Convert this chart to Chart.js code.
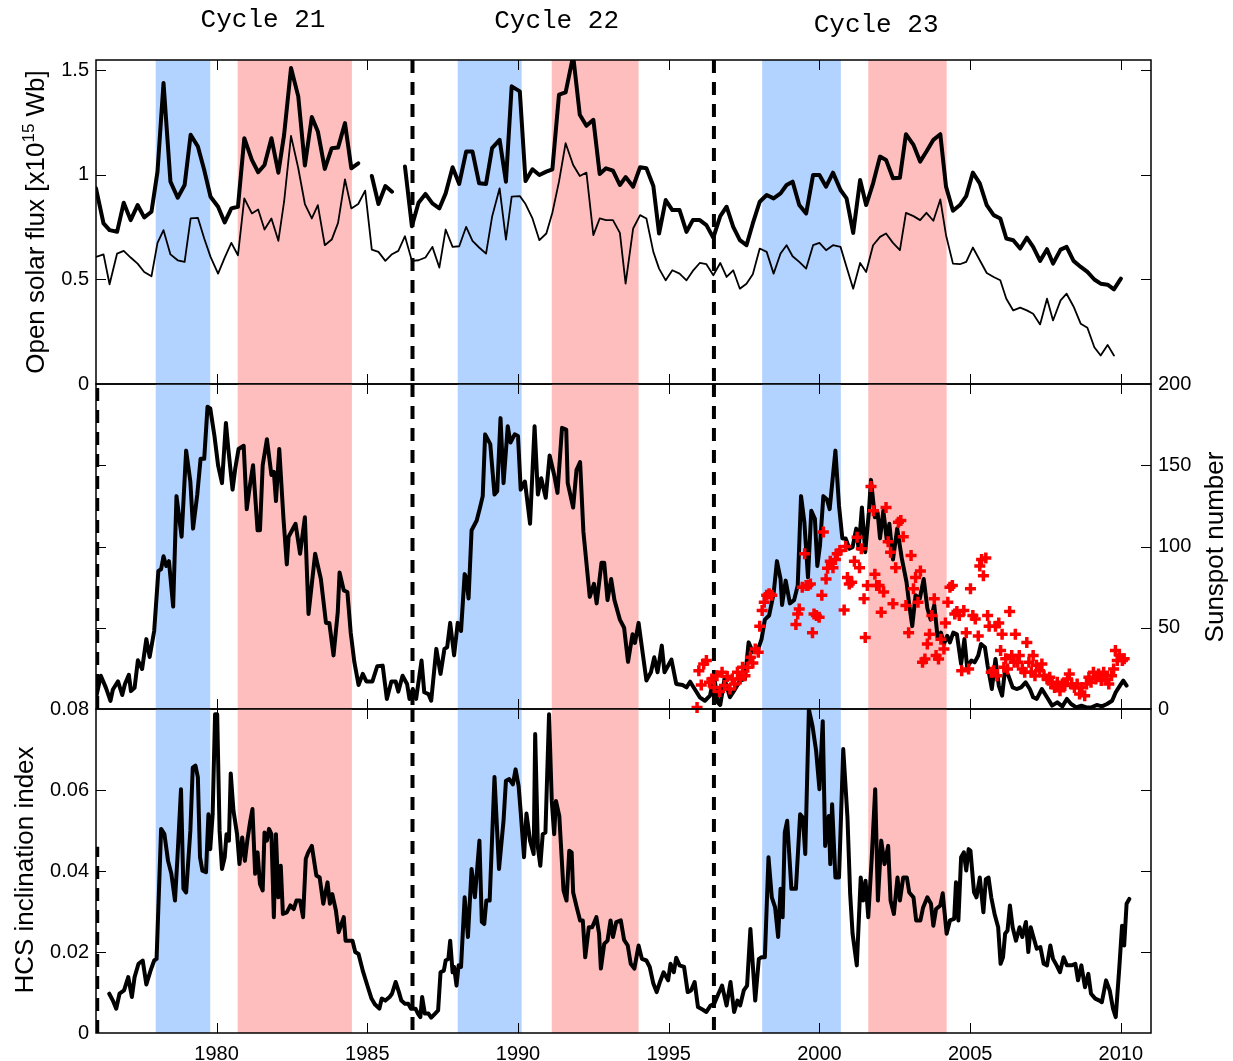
<!DOCTYPE html>
<html lang="en">
<head>
    <meta charset="UTF-8">
    <title>Open solar flux, sunspot number and HCS inclination, cycles 21-23</title>
    <script src="https://cdn.jsdelivr.net/npm/chart.js"></script>
    <style>
        body {
            margin: 0;
            padding: 0;
            background-color: #fff;
        }

        #figure {
            position: relative;
            width: 1233px;
            height: 1061px;
        }

        #figure canvas {
            position: absolute;
            left: 0;
            top: 0;
        }
    </style>
</head>
<body>
    <div id="figure">
        <canvas id="fluxChart" width="1233" height="1061"></canvas>
        <canvas id="sunChart" width="1233" height="1061"></canvas>
        <canvas id="hcsChart" width="1233" height="1061"></canvas>
    </div>

    <script>
        // ---- data ----
        const yearTicks = [1980, 1985, 1990, 1995, 2000, 2005, 2010];
        const fluxTicks = [0, 0.5, 1, 1.5];
        const sunTicks = [0, 50, 100, 150, 200];
        const hcsTicks = [0, 0.02, 0.04, 0.06, 0.08];

        const blueBands = [[1977.98, 1979.79], [1988.0, 1990.12], [1998.1, 2000.71]];
        const pinkBands = [[1980.7, 1984.49], [1991.12, 1994.0], [2001.62, 2004.22]];
        const minimumYears = [1986.5, 1996.5];
        const firstMinimum = 1976.04;

        const cycleNames = ["Cycle 21", "Cycle 22", "Cycle 23"];
        const cycleYears = [1981.54, 1991.28, 2001.88];

        // open solar flux (x10^15 Wb): thick and thin curves
        const fluxYears = [
            1976.0, 1976.25, 1976.45, 1976.7, 1976.92, 1977.15, 1977.38, 1977.6, 1977.84, 1978.04,
            1978.24, 1978.47, 1978.71, 1978.94, 1979.14, 1979.38, 1979.59, 1979.8, 1980.05, 1980.27,
            1980.49, 1980.71, 1980.92, 1981.17, 1981.38, 1981.59, 1981.82, 1982.05, 1982.24, 1982.47,
            1982.71, 1982.93, 1983.16, 1983.36, 1983.59, 1983.82, 1984.03, 1984.26, 1984.47, 1984.7,
            1984.93, 1985.15, 1985.37, 1985.6, 1985.82, 1986.03, 1986.25, 1986.48, 1986.7, 1986.93,
            1987.16, 1987.39, 1987.6, 1987.83, 1988.05, 1988.28, 1988.49, 1988.71, 1988.94, 1989.14,
            1989.39, 1989.6, 1989.79, 1990.06, 1990.25, 1990.48, 1990.71, 1990.94, 1991.14, 1991.36,
            1991.58, 1991.83, 1992.05, 1992.27, 1992.5, 1992.71, 1992.92, 1993.15, 1993.38, 1993.57,
            1993.82, 1994.05, 1994.26, 1994.49, 1994.68, 1994.9, 1995.12, 1995.36, 1995.59, 1995.8,
            1996.03, 1996.25, 1996.48, 1996.71, 1996.92, 1997.14, 1997.36, 1997.58, 1997.79, 1998.02,
            1998.25, 1998.48, 1998.71, 1998.91, 1999.11, 1999.33, 1999.56, 1999.79, 2000.0, 2000.22,
            2000.45, 2000.7, 2000.9, 2001.12, 2001.35, 2001.55, 2001.78, 2002.01, 2002.21, 2002.44,
            2002.67, 2002.87, 2003.12, 2003.34, 2003.55, 2003.78, 2004.01, 2004.2, 2004.43, 2004.66,
            2004.87, 2005.09, 2005.32, 2005.55, 2005.78, 2006.0, 2006.2, 2006.43, 2006.66, 2006.88,
            2007.09, 2007.32, 2007.55, 2007.75, 2008.0, 2008.2, 2008.43, 2008.67, 2008.89, 2009.12,
            2009.33, 2009.56, 2009.77, 2010.0
        ];
        const fluxThick = [
            .936, .768, .736, .728, .867, .784, .856, .797, .824, 1.016,
            1.44, .968, .891, .952, 1.192, 1.136, 1.024, .896, .848, .773,
            .84, .848, 1.176, 1.072, 1.013, 1.048, 1.176, 1.011, 1.192, 1.512,
            1.376, 1.045, 1.277, 1.208, 1.029, 1.128, 1.131, 1.248, 1.032, 1.056,
            null, .995, .861, .947, .92, null, 1.04, .755, .867, .909,
            .864, .84, .912, 1.037, .957, 1.112, 1.112, .96, .957, 1.128,
            1.168, .968, 1.424, 1.4, .971, 1.027, 1.0, 1.016, 1.027, 1.384,
            1.395, 1.57, 1.288, 1.235, 1.264, 1.005, 1.032, 1.021, .952, .99,
            .944, 1.037, 1.032, .947, .72, .88, .832, .832, .728, .784,
            .784, .76, .7, .803, .848, .752, .688, .664, .768, .872,
            .904, .888, .912, .952, .968, .856, .816, 1.0, 1.0, .944,
            1.011, .928, .888, .723, .976, .856, .96, 1.088, 1.072, .984,
            .987, 1.195, 1.144, 1.064, 1.112, 1.168, 1.195, .944, .829, .856,
            .899, 1.011, .96, .856, .808, .792, .696, .688, .648, .70,
            .656, .589, .645, .576, .643, .656, .589, .56, .536, .5,
            .48, .475, .453, .504
        ];
        const fluxThin = [
            .608, .62, .477, .624, .637, .605, .576, .536, .515, .675,
            .736, .62, .592, .584, .792, .795, .696, .608, .528, .605,
            .675, .616, .888, .816, .835, .739, .792, .685, .872, 1.187,
            1.032, .861, .792, .856, .664, .691, .771, .979, .84, .861,
            .925, .643, .632, .589, .621, .637, .707, .589, .592, .605,
            .656, .557, .739, .656, .659, .752, .685, .653, .624, .8,
            .936, .691, .896, .899, .861, .792, .688, .72, .819, .968,
            1.152, 1.048, .995, 1.011, .712, .792, .784, .784, .723, .48,
            .744, .808, .792, .632, .552, .496, .544, .528, .496, .541,
            .579, .573, .52, .579, .512, .544, .456, .48, .525, .648,
            .632, .528, .624, .664, .611, .584, .552, .664, .675, .64,
            .664, .656, .56, .456, .579, .536, .664, .704, .72, .675,
            .64, .819, .803, .784, .819, .781, .883, .712, .576, .573,
            .584, .653, .592, .531, .512, .496, .408, .352, .365, .352,
            .336, .285, .408, .304, .4, .432, .371, .288, .269, .176,
            .136, .187, .136, null
        ];

        // sunspot number (black curve)
        const sunYears = [
            1975.98, 1976.16, 1976.33, 1976.48, 1976.56, 1976.73, 1976.87, 1976.96, 1977.09, 1977.16,
            1977.28, 1977.39, 1977.53, 1977.67, 1977.78, 1977.93, 1978.07, 1978.16, 1978.24, 1978.33,
            1978.42, 1978.56, 1978.67, 1978.84, 1978.99, 1979.13, 1979.22, 1979.36, 1979.47, 1979.59,
            1979.7, 1979.79, 1979.93, 1980.05, 1980.18, 1980.31, 1980.39, 1980.53, 1980.62, 1980.73,
            1980.9, 1981.0, 1981.11, 1981.21, 1981.36, 1981.44, 1981.53, 1981.67, 1981.82, 1981.9,
            1981.97, 1982.08, 1982.22, 1982.33, 1982.39, 1982.62, 1982.77, 1982.93, 1983.05, 1983.27,
            1983.46, 1983.63, 1983.74, 1983.88, 1984.02, 1984.08, 1984.22, 1984.34, 1984.45, 1984.57,
            1984.71, 1984.85, 1984.97, 1985.17, 1985.33, 1985.51, 1985.65, 1985.8, 1985.94, 1986.03,
            1986.17, 1986.32, 1986.4, 1986.51, 1986.62, 1986.8, 1986.89, 1987.03, 1987.12, 1987.29,
            1987.43, 1987.56, 1987.65, 1987.75, 1987.88, 1988.0, 1988.11, 1988.23, 1988.28, 1988.36,
            1988.46, 1988.63, 1988.74, 1988.83, 1988.91, 1989.08, 1989.22, 1989.31, 1989.42, 1989.52,
            1989.66, 1989.75, 1989.89, 1990.0, 1990.09, 1990.23, 1990.4, 1990.55, 1990.66, 1990.77,
            1990.92, 1991.05, 1991.2, 1991.31, 1991.46, 1991.6, 1991.65, 1991.83, 1991.94, 1992.06,
            1992.17, 1992.38, 1992.52, 1992.61, 1992.77, 1992.86, 1992.97, 1993.09, 1993.2, 1993.38,
            1993.52, 1993.65, 1993.8, 1993.88, 1994.0, 1994.11, 1994.26, 1994.41, 1994.52, 1994.63,
            1994.77, 1994.86, 1995.09, 1995.25, 1995.46, 1995.59, 1995.71, 1995.86, 1996.03, 1996.2,
            1996.37, 1996.51, 1996.62, 1996.71, 1996.85, 1997.03, 1997.17, 1997.37, 1997.53, 1997.65,
            1997.79, 1997.97, 1998.08, 1998.19, 1998.33, 1998.48, 1998.59, 1998.71, 1998.76, 1998.88,
            1999.02, 1999.16, 1999.28, 1999.39, 1999.5, 1999.62, 1999.73, 1999.85, 1999.93, 2000.02,
            2000.13, 2000.25, 2000.34, 2000.53, 2000.65, 2000.76, 2000.87, 2000.99, 2001.1, 2001.22,
            2001.3, 2001.41, 2001.52, 2001.64, 2001.71, 2001.84, 2001.93, 2002.01, 2002.12, 2002.24,
            2002.32, 2002.44, 2002.58, 2002.73, 2002.89, 2002.98, 2003.08, 2003.19, 2003.33, 2003.46,
            2003.58, 2003.69, 2003.81, 2003.92, 2004.03, 2004.13, 2004.24, 2004.33, 2004.44, 2004.56,
            2004.7, 2004.81, 2004.9, 2005.04, 2005.15, 2005.27, 2005.36, 2005.49, 2005.58, 2005.72,
            2005.84, 2005.95, 2006.06, 2006.16, 2006.27, 2006.41, 2006.54, 2006.69, 2006.84, 2006.98,
            2007.09, 2007.21, 2007.38, 2007.55, 2007.72, 2007.89, 2008.06, 2008.21, 2008.35, 2008.52,
            2008.69, 2008.86, 2009.03, 2009.2, 2009.37, 2009.54, 2009.71, 2009.83, 2009.97, 2010.08,
            2010.19
        ];
        const sunValues = [
            5, 20.5, 13, 5, 12, 17, 8.6, 15.4, 21, 11,
            13, 30, 24.6, 43, 32, 48, 85, 86, 94, 88,
            91, 63, 131, 106, 159, 140, 111, 132, 154, 154,
            186, 185, 168, 150, 139, 176, 160, 135, 148, 160,
            162, 123, 138, 150, 110, 110, 150, 166, 144, 146,
            128, 160, 117, 89, 106, 114, 95.5, 118, 58.5, 95.5,
            80, 53, 53, 33, 59.5, 84, 73, 72, 47, 29,
            14.8, 21.6, 17, 17, 26.3, 26.7, 6.2, 17, 17, 10.7,
            20.5, 15.4, 6.2, 12.3, 6.2, 29.8, 10.3, 9.2, 5.1, 37,
            21.6, 37, 38, 53, 33, 53, 48, 83, 81, 68,
            110, 116, 124, 131, 169, 163, 132, 134, 179, 139,
            174, 164, 169, 168, 135, 140, 114, 174, 132, 142,
            130, 156, 144, 133, 173, 172, 139, 124, 147, 152,
            109, 69, 77, 65, 90, 90, 67, 80, 67, 55,
            50, 29, 46, 40.7, 53, 38, 17.5, 22.6, 31.8, 22.6,
            39, 22.6, 30.4, 15.4, 14.8, 13.3, 16.8, 12.3, 7.2, 5.1,
            8.2, 20.5, 4.1, 2.5, 18.5, 7.2, 11.3, 17.5, 18.5, 41,
            35, 37, 43, 55, 57.5, 71, 91, 80, 64, 79,
            65, 67, 76, 131, 115, 81, 122, 117, 88, 101,
            131, 129, 123, 159, 125, 105, 105, 98.6, 99.6, 111,
            98.6, 124, 96.5, 121, 141, 118, 121, 105, 122, 103,
            114, 92, 111, 93, 78, 64, 51, 70, 68, 80,
            62, 55, 64, 44, 47, 40, 45, 41, 47, 46,
            27.7, 43, 25.7, 29.8, 28.7, 32.9, 40, 38, 26.7, 12.3,
            30.8, 14.4, 8.2, 24.6, 20.5, 13.3, 12.3, 13.3, 16.4, 12.3,
            7.2, 6.2, 12.3, 7.2, 2.1, 4.1, 1.6, 6.2, 3.1, 1,
            2, 1, 1, 2.5, 1.6, 3.1, 5.1, 10.3, 14.4, 17.5,
            14.4
        ];

        // red crosses (second sunspot series, 1996 onward)
        const crossYears = [
            1995.94, 1996.0, 1996.08, 1996.16, 1996.25, 1996.35, 1996.43, 1996.51, 1996.6, 1996.69,
            1996.77, 1996.85, 1996.94, 1997.03, 1997.11, 1997.19, 1997.28, 1997.37, 1997.45, 1997.53,
            1997.62, 1997.71, 1997.79, 1997.87, 1997.97, 1998.02, 1998.1, 1998.17, 1998.25, 1998.33,
            1998.42, 1999.22, 1999.28, 1999.33, 1999.43, 1999.51, 1999.56, 1999.62, 1999.7, 1999.77,
            1999.82, 1999.9, 1999.99, 2000.08, 2000.13, 2000.22, 2000.27, 2000.36, 2000.45, 2000.53,
            2000.59, 2000.68, 2000.82, 2000.87, 2000.93, 2000.99, 2001.07, 2001.16, 2001.25, 2001.33,
            2001.39, 2001.48, 2001.52, 2001.59, 2001.71, 2001.79, 2001.84, 2001.9, 2001.98, 2002.05,
            2002.13, 2002.21, 2002.28, 2002.36, 2002.44, 2002.53, 2002.62, 2002.7, 2002.78, 2002.87,
            2002.96, 2003.04, 2003.12, 2003.19, 2003.27, 2003.35, 2003.42, 2003.5, 2003.58, 2003.65,
            2003.73, 2003.81, 2003.87, 2003.95, 2004.03, 2004.13, 2004.18, 2004.26, 2004.33, 2004.41,
            2004.49, 2004.56, 2004.64, 2004.72, 2004.79, 2004.87, 2004.95, 2005.01, 2005.09, 2005.17,
            2005.27, 2005.32, 2005.38, 2005.44, 2005.52, 2005.58, 2005.63, 2005.7, 2005.78, 2005.84,
            2005.89, 2005.95, 2006.01, 2006.06, 2006.12, 2006.18, 2006.24, 2006.31, 2006.38, 2006.46,
            2006.5, 2006.58, 2006.63, 2006.73, 2006.81, 2006.88, 2006.95, 2007.03, 2007.09, 2007.15,
            2007.2, 2007.3, 2007.38, 2007.45, 2007.55, 2007.64, 2007.72, 2007.8, 2007.89, 2007.98,
            2008.06, 2008.14, 2008.23, 2008.29, 2008.37, 2008.46, 2008.55, 2008.63, 2008.71, 2008.8,
            2008.86, 2008.94, 2009.01, 2009.09, 2009.17, 2009.26, 2009.35, 2009.43, 2009.51, 2009.6,
            2009.69, 2009.76, 2009.82, 2009.88, 2009.95, 2010.05, 2010.11
        ];
        const crossValues = [
            1, 23.6, 14.8, 27.7, 29.8, 16.4, 18.5, 13.3, 20.5, 10.7,
            22.6, 14.4, 20, 12.3, 18.5, 15.4, 22.6, 18.5, 25.7, 20.5,
            25.7, 31.8, 28.3, 37, 35, 51, 60.6, 65.7, 70, 71,
            70, 52, 58.5, 61.6, 75, 95.5, 76, 76, 77, 47,
            58.5, 57.5, 56.5, 70, 109, 80, 86.6, 91, 87, 92,
            95.5, 97.5, 61, 100, 81, 77, 78, 91, 105.7, 87,
            98.6, 67.8, 44, 76, 137, 122, 83, 76, 76, 59.5,
            72, 124, 103, 96.5, 64.7, 87, 115, 116, 106, 63.7,
            47, 94.5, 74, 81, 65.7, 85, 28.7, 30.8, 40, 46,
            57.5, 67.8, 32.9, 30.8, 43, 37, 53, 65.7, 75, 76,
            58.5, 60, 57.5, 23.6, 60.6, 47, 24.6, 74, 57.5, 55.4,
            45, 88, 92, 82, 93, 57.5, 51, 22.6, 23.6, 51,
            20.5, 53, 36, 46, 25.7, 31, 24.6, 60, 33, 28.7,
            46, 28.7, 33, 24.6, 22.6, 41, 28.7, 22.6, 33, 20.5,
            27, 23.6, 27.7, 20.5, 18.5, 19.5, 15.4, 13.3, 16.4, 11.3,
            15.4, 14.4, 18.5, 21.6, 15.4, 13.3, 15.4, 9.2, 13.3, 8.2,
            15.4, 19.5, 16.4, 22.6, 18.5, 21.6, 17.5, 22.6, 18.5, 15.4,
            20.5, 24.6, 36, 29.8, 33.3, 29.8, 31
        ];

        // HCS inclination index
        const hcsYears = [
            1976.44, 1976.56, 1976.67, 1976.78, 1976.93, 1977.07, 1977.19, 1977.28, 1977.41, 1977.55,
            1977.67, 1977.81, 1977.93, 1978.01, 1978.16, 1978.27, 1978.39, 1978.5, 1978.62, 1978.7,
            1978.82, 1978.9, 1978.99, 1979.13, 1979.21, 1979.3, 1979.38, 1979.45, 1979.53, 1979.65,
            1979.73, 1979.79, 1979.87, 1979.95, 1980.02, 1980.1, 1980.18, 1980.27, 1980.33, 1980.41,
            1980.47, 1980.56, 1980.68, 1980.76, 1980.85, 1980.94, 1981.02, 1981.11, 1981.19, 1981.28,
            1981.36, 1981.44, 1981.53, 1981.59, 1981.67, 1981.74, 1981.82, 1981.9, 1981.97, 1982.05,
            1982.13, 1982.2, 1982.33, 1982.45, 1982.56, 1982.65, 1982.77, 1982.87, 1982.96, 1983.04,
            1983.16, 1983.31, 1983.42, 1983.54, 1983.68, 1983.76, 1983.84, 1983.96, 1984.05, 1984.14,
            1984.22, 1984.28, 1984.51, 1984.6, 1984.71, 1984.85, 1985.02, 1985.14, 1985.25, 1985.4,
            1985.48, 1985.6, 1985.74, 1985.82, 1985.94, 1986.05, 1986.13, 1986.25, 1986.36, 1986.45,
            1986.6, 1986.68, 1986.76, 1986.82, 1986.91, 1987.03, 1987.12, 1987.25, 1987.35, 1987.43,
            1987.54, 1987.6, 1987.69, 1987.75, 1987.83, 1987.88, 1987.96, 1988.03, 1988.11, 1988.23,
            1988.34, 1988.46, 1988.57, 1988.72, 1988.8, 1988.88, 1988.95, 1989.06, 1989.22, 1989.37,
            1989.52, 1989.6, 1989.71, 1989.83, 1989.92, 1990.02, 1990.09, 1990.2, 1990.28, 1990.4,
            1990.52, 1990.57, 1990.66, 1990.74, 1990.82, 1990.91, 1991.03, 1991.12, 1991.2, 1991.26,
            1991.37, 1991.51, 1991.61, 1991.7, 1991.78, 1991.83, 1991.95, 1992.06, 1992.15, 1992.23,
            1992.35, 1992.46, 1992.6, 1992.69, 1992.75, 1992.86, 1992.97, 1993.07, 1993.15, 1993.26,
            1993.41, 1993.52, 1993.64, 1993.74, 1993.86, 1994.0, 1994.11, 1994.26, 1994.37, 1994.49,
            1994.6, 1994.71, 1994.83, 1994.98, 1995.06, 1995.17, 1995.25, 1995.36, 1995.51, 1995.63,
            1995.74, 1995.86, 1995.97, 1996.12, 1996.25, 1996.39, 1996.51, 1996.65, 1996.77, 1996.92,
            1997.05, 1997.17, 1997.28, 1997.37, 1997.49, 1997.6, 1997.71, 1997.87, 1997.99, 1998.08,
            1998.19, 1998.31, 1998.42, 1998.53, 1998.63, 1998.71, 1998.78, 1998.85, 1998.93, 1999.07,
            1999.22, 1999.36, 1999.45, 1999.53, 1999.65, 1999.77, 1999.89, 2000.0, 2000.11, 2000.19,
            2000.31, 2000.36, 2000.42, 2000.53, 2000.65, 2000.79, 2000.93, 2001.02, 2001.1, 2001.24,
            2001.37, 2001.45, 2001.53, 2001.62, 2001.73, 2001.85, 2001.94, 2002.05, 2002.16, 2002.28,
            2002.36, 2002.47, 2002.59, 2002.67, 2002.78, 2002.9, 2002.98, 2003.12, 2003.21, 2003.35,
            2003.44, 2003.58, 2003.7, 2003.78, 2003.87, 2004.01, 2004.09, 2004.22, 2004.33, 2004.47,
            2004.53, 2004.61, 2004.7, 2004.79, 2004.87, 2004.95, 2005.01, 2005.13, 2005.21, 2005.32,
            2005.44, 2005.52, 2005.61, 2005.7, 2005.81, 2005.93, 2006.01, 2006.09, 2006.16, 2006.24,
            2006.32, 2006.41, 2006.52, 2006.64, 2006.73, 2006.85, 2006.93, 2007.01, 2007.1, 2007.21,
            2007.33, 2007.44, 2007.55, 2007.66, 2007.75, 2007.87, 2007.98, 2008.1, 2008.21, 2008.37,
            2008.49, 2008.58, 2008.69, 2008.81, 2008.92, 2009.01, 2009.15, 2009.29, 2009.37, 2009.51,
            2009.63, 2009.74, 2009.83, 2009.95, 2010.04, 2010.11, 2010.19, 2010.28
        ];
        const hcsValues = [
            .0097, .0080, .0060, .0097, .0105, .0138, .0089, .0138, .0171, .0179,
            .0120, .0154, .0179, .0183, .0504, .0491, .0425, .0393, .0327, .0430,
            .0602, .0356, .0347, .0499, .0655, .0660, .0631, .0434, .0401, .0397,
            .0540, .0454, .0540, .0787, .0787, .0499, .0405, .0434, .0491, .0475,
            .0641, .0549, .0491, .0417, .0483, .0425, .0475, .0520, .0553, .0393,
            .0446, .0368, .0352, .0495, .0475, .0504, .0491, .0286, .0491, .0335,
            .0413, .0294, .0298, .0315, .0306, .0327, .0327, .0286, .0430, .0446,
            .0462, .0389, .0384, .0319, .0372, .0319, .0343, .0302, .0249, .0269,
            .0286, .0228, .0228, .0200, .0195, .0154, .0113, .0085, .0071, .0060,
            .0085, .0080, .0089, .0097, .0126, .0101, .0080, .0072, .0072, .0060,
            .0060, .0048, .0039, .0089, .0048, .0048, .0038, .0048, .0056, .0150,
            .0154, .0179, .0183, .0228, .0150, .0163, .0117, .0167, .0163, .0335,
            .0237, .0405, .0335, .0475, .0274, .0269, .0327, .0327, .0632, .0405,
            .0524, .0623, .0627, .0614, .0651, .0610, .0545, .0434, .0542, .0475,
            .0442, .0738, .0458, .0413, .0491, .0495, .0787, .0573, .0491, .0573,
            .0536, .0352, .0327, .0450, .0446, .0347, .0310, .0278, .0278, .0187,
            .0261, .0261, .0286, .0245, .0159, .0220, .0228, .0278, .0237, .0274,
            .0278, .0230, .0216, .0171, .0159, .0216, .0183, .0179, .0163, .0122,
            .0101, .0126, .0150, .0130, .0171, .0150, .0186, .0167, .0163, .0101,
            .0105, .0126, .0064, .0058, .0052, .0068, .0072, .0097, .0117, .0068,
            .0126, .0052, .0080, .0068, .0105, .0117, .0257, .0080, .0183, .0187,
            .0187, .0434, .0335, .0310, .0237, .0356, .0286, .0495, .0524, .0356,
            .0356, .0540, .0532, .0442, .0799, .0758, .0697, .0602, .0770, .0462,
            .0536, .0417, .0565, .0384, .0384, .0701, .0532, .0343, .0245, .0167,
            .0384, .0327, .0376, .0286, .0425, .0602, .0327, .0475, .0417, .0462,
            .0327, .0294, .0384, .0327, .0384, .0384, .0347, .0335, .0278, .0278,
            .0310, .0335, .0319, .0265, .0306, .0315, .0345, .0245, .0278, .0282,
            .0372, .0278, .0434, .0446, .0401, .0454, .0450, .0347, .0335, .0384,
            .0298, .0380, .0384, .0335, .0294, .0261, .0171, .0187, .0245, .0253,
            .0315, .0261, .0228, .0261, .0237, .0274, .0200, .0261, .0237, .0208,
            .0212, .0171, .0167, .0216, .0183, .0167, .0150, .0187, .0167, .0167,
            .0171, .0130, .0167, .0113, .0146, .0097, .0085, .0080, .0076, .0130,
            .0105, .0060, .0039, .0163, .0265, .0216, .0319, .0331
        ];

        // ---- drawing ----
        const FONT = "'Liberation Sans', Arial, Helvetica, sans-serif";
        const tickFont = { family: FONT, size: 20 };

        function pairs(xs, ys) {
            return xs.map((x, i) => ({ x: x, y: ys[i] }));
        }

        function xAxis(showLabels) {
            const axis = {
                type: 'linear',
                min: 1976,
                max: 2011,
                display: showLabels,
                afterBuildTicks: scale => { scale.ticks = yearTicks.map(v => ({ value: v })); },
                grid: { display: false, drawTicks: false },
                border: { display: false },
                ticks: { padding: 9, color: '#000', font: tickFont, maxRotation: 0, callback: v => String(v) }
            };
            if (showLabels) {
                axis.afterFit = scale => { scale.height = 28; };
            }
            return axis;
        }

        function yAxis(position, min, max, ticks, width) {
            return {
                type: 'linear',
                position: position,
                min: min,
                max: max,
                afterBuildTicks: scale => { scale.ticks = ticks.map(v => ({ value: v })); },
                afterFit: scale => { scale.width = width; },
                grid: { display: false, drawTicks: false },
                border: { display: false },
                ticks: { padding: 7, color: '#000', font: tickFont, callback: v => String(v) }
            };
        }

        // colour bands, minimum lines, inward ticks and box of each panel
        const panelDecor = {
            id: 'panelDecor',
            beforeDatasetsDraw(chart, args, opts) {
                const { ctx, chartArea: a, scales } = chart;
                const x = scales.x, y = scales.y;
                ctx.save();
                ctx.beginPath();
                ctx.rect(a.left, a.top, a.width, a.height);
                ctx.clip();
                const fillBands = (list, colour) => {
                    ctx.fillStyle = colour;
                    list.forEach(b => {
                        const x0 = x.getPixelForValue(b[0]);
                        const x1 = x.getPixelForValue(b[1]);
                        ctx.fillRect(x0, a.top, x1 - x0, a.height);
                    });
                };
                fillBands(blueBands, 'rgb(178, 210, 255)');
                fillBands(pinkBands, 'rgb(255, 190, 190)');

                ctx.strokeStyle = '#000';
                ctx.lineWidth = 4;
                ctx.setLineDash([13, 9]);
                ctx.beginPath();
                minimumYears.forEach(v => {
                    const px = x.getPixelForValue(v);
                    ctx.moveTo(px, a.top);
                    ctx.lineTo(px, a.bottom);
                });
                if (opts.leftDashTo !== null) {
                    const px = x.getPixelForValue(firstMinimum);
                    ctx.moveTo(px, a.bottom);
                    ctx.lineTo(px, y.getPixelForValue(opts.leftDashTo));
                }
                ctx.stroke();
                ctx.restore();
            },
            afterDraw(chart, args, opts) {
                const { ctx, chartArea: a, scales } = chart;
                const x = scales.x, y = scales.y;
                ctx.save();
                ctx.strokeStyle = '#000';
                ctx.lineWidth = 1;
                ctx.beginPath();
                yearTicks.forEach(v => {
                    const px = Math.round(x.getPixelForValue(v)) + 0.5;
                    ctx.moveTo(px, a.top);
                    ctx.lineTo(px, a.top + 10);
                    ctx.moveTo(px, a.bottom);
                    ctx.lineTo(px, a.bottom - 10);
                });
                opts.inner.forEach(v => {
                    const py = Math.round(y.getPixelForValue(v)) + 0.5;
                    ctx.moveTo(a.left, py);
                    ctx.lineTo(a.left + 10, py);
                    ctx.moveTo(a.right, py);
                    ctx.lineTo(a.right - 10, py);
                });
                ctx.stroke();
                ctx.lineWidth = 1.5;
                ctx.strokeRect(a.left, a.top, a.width, a.height);
                ctx.restore();
            }
        };

        // rotated axis title; parts are [text, size, raise]
        function rotatedTitle(ctx, parts, baseX, centreY) {
            ctx.save();
            ctx.translate(baseX, centreY);
            ctx.rotate(-Math.PI / 2);
            ctx.fillStyle = '#000';
            ctx.textBaseline = 'alphabetic';
            ctx.textAlign = 'left';
            let total = 0;
            parts.forEach(p => {
                ctx.font = p[1] + 'px ' + FONT;
                total += ctx.measureText(p[0]).width;
            });
            let pos = -total / 2;
            parts.forEach(p => {
                ctx.font = p[1] + 'px ' + FONT;
                ctx.fillText(p[0], pos, -p[2]);
                pos += ctx.measureText(p[0]).width;
            });
            ctx.restore();
        }

        const fluxLabels = {
            id: 'fluxLabels',
            afterDraw(chart) {
                const { ctx, scales: { x } } = chart;
                const baselines = [27, 28, 32];
                ctx.save();
                ctx.fillStyle = '#000';
                ctx.font = "26px 'Liberation Mono', 'Courier New', monospace";
                ctx.textAlign = 'center';
                ctx.textBaseline = 'alphabetic';
                cycleNames.forEach((name, i) => {
                    ctx.fillText(name, x.getPixelForValue(cycleYears[i]), baselines[i]);
                });
                ctx.restore();
                rotatedTitle(ctx, [['Open solar flux [x10', 26, 0], ['15', 17, 10], [' Wb]', 26, 0]], 44, 222);
            }
        };

        const sunLabels = {
            id: 'sunLabels',
            afterDraw(chart) {
                rotatedTitle(chart.ctx, [['Sunspot number', 26, 0]], 1223, 547);
            }
        };

        const hcsLabels = {
            id: 'hcsLabels',
            afterDraw(chart) {
                rotatedTitle(chart.ctx, [['HCS inclination index', 26, 0]], 33, 870);
            }
        };

        function chartOptions(padding, scales, decor) {
            return {
                responsive: false,
                animation: false,
                devicePixelRatio: 1,
                events: [],
                layout: { padding: padding },
                scales: scales,
                elements: {
                    point: { radius: 0 },
                    line: { tension: 0, borderJoinStyle: 'round', borderCapStyle: 'round' }
                },
                plugins: {
                    legend: { display: false },
                    tooltip: { enabled: false },
                    panelDecor: decor
                }
            };
        }

        new Chart(document.getElementById('fluxChart'), {
            type: 'line',
            data: {
                datasets: [
                    { data: pairs(fluxYears, fluxThick), borderColor: '#000', borderWidth: 4, clip: 0 },
                    { data: pairs(fluxYears, fluxThin), borderColor: '#000', borderWidth: 1.8, clip: 0 }
                ]
            },
            options: chartOptions(
                { left: 0, right: 82, top: 60, bottom: 677 },
                { x: xAxis(false), y: yAxis('left', 0, 1.55, fluxTicks, 96) },
                { inner: [0.5, 1, 1.5], leftDashTo: null }
            ),
            plugins: [panelDecor, fluxLabels]
        });

        new Chart(document.getElementById('sunChart'), {
            type: 'line',
            data: {
                datasets: [
                    {
                        data: pairs(crossYears, crossValues),
                        showLine: false,
                        pointStyle: 'cross',
                        pointRadius: 5.5,
                        pointBorderWidth: 3.5,
                        pointBorderColor: '#ff0000',
                        pointBackgroundColor: '#ff0000',
                        order: 0,
                        clip: 8
                    },
                    { data: pairs(sunYears, sunValues), borderColor: '#000', borderWidth: 4, order: 1, clip: 0 }
                ]
            },
            options: chartOptions(
                { left: 96, right: 0, top: 384, bottom: 352 },
                { x: xAxis(false), y: yAxis('right', 0, 200, sunTicks, 82) },
                { inner: [50, 100, 150], leftDashTo: 200 }
            ),
            plugins: [panelDecor, sunLabels]
        });

        new Chart(document.getElementById('hcsChart'), {
            type: 'line',
            data: {
                datasets: [
                    { data: pairs(hcsYears, hcsValues), borderColor: '#000', borderWidth: 4, clip: 0 }
                ]
            },
            options: chartOptions(
                { left: 0, right: 82, top: 709, bottom: 0 },
                { x: xAxis(true), y: yAxis('left', 0, 0.08, hcsTicks, 96) },
                { inner: [0.02, 0.04, 0.06], leftDashTo: 0.046 }
            ),
            plugins: [panelDecor, hcsLabels]
        });
    </script>
</body>
</html>
